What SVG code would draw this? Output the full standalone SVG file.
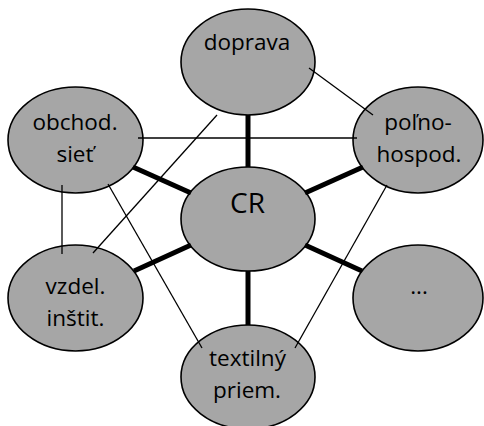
<svg xmlns="http://www.w3.org/2000/svg" width="484" height="426" viewBox="0 0 484 426">
<style>
.n{fill:#a6a6a6;stroke:#000;stroke-width:1.6}
.t{font-family:"Open Sans","Liberation Sans",sans-serif;font-size:22.5px;fill:#000;text-anchor:middle}
.big{font-size:28px}
.thin{stroke:#000;stroke-width:1.3;fill:none}
.thick{stroke:#000;stroke-width:5;fill:none}
</style>
<rect width="484" height="426" fill="#fff"/>
<g id="node-doprava"><ellipse class="n" cx="248" cy="62" rx="67" ry="53"/><text class="t" x="247" y="50">doprava</text></g>
<g id="node-obchod"><ellipse class="n" cx="75.5" cy="140" rx="67.5" ry="53"/><text class="t" x="75" y="130">obchod.</text><text class="t" x="75" y="162">sieť</text></g>
<g id="node-polno"><ellipse class="n" cx="418" cy="140" rx="65" ry="53"/><text class="t" x="418" y="130">poľno-</text><text class="t" x="419" y="162">hospod.</text></g>
<g id="node-cr"><ellipse class="n" cx="248" cy="219" rx="67" ry="52"/><text class="t big" x="247.5" y="213">CR</text></g>
<g id="node-vzdel"><ellipse class="n" cx="75.5" cy="298" rx="67.5" ry="53"/><text class="t" x="75.5" y="294">vzdel.</text><text class="t" x="75.5" y="326">inštit.</text></g>
<g id="node-dots"><ellipse class="n" cx="418" cy="298" rx="65" ry="53"/><text class="t" x="419" y="294">...</text></g>
<g id="node-textil"><ellipse class="n" cx="248" cy="377" rx="67" ry="52"/><text class="t" x="247.5" y="366">textilný</text><text class="t" x="247" y="398">priem.</text></g>
<g id="connectors">
<line class="thick" x1="248" y1="115" x2="248" y2="167"/>
<line class="thick" x1="248" y1="271" x2="248" y2="325"/>
<line class="thick" x1="133" y1="167" x2="191" y2="193"/>
<line class="thick" x1="363" y1="167" x2="305" y2="193"/>
<line class="thick" x1="134" y1="271" x2="191" y2="245"/>
<line class="thick" x1="362" y1="271" x2="305" y2="245"/>
<line class="thin" x1="309" y1="68" x2="373" y2="115"/>
<line class="thin" x1="138" y1="138" x2="357" y2="138"/>
<line class="thin" x1="217" y1="115" x2="93" y2="253"/>
<line class="thin" x1="62" y1="185" x2="62" y2="254"/>
<line class="thin" x1="108" y1="184" x2="202" y2="348"/>
<line class="thin" x1="387" y1="185" x2="295" y2="348"/>
</g>
</svg>
